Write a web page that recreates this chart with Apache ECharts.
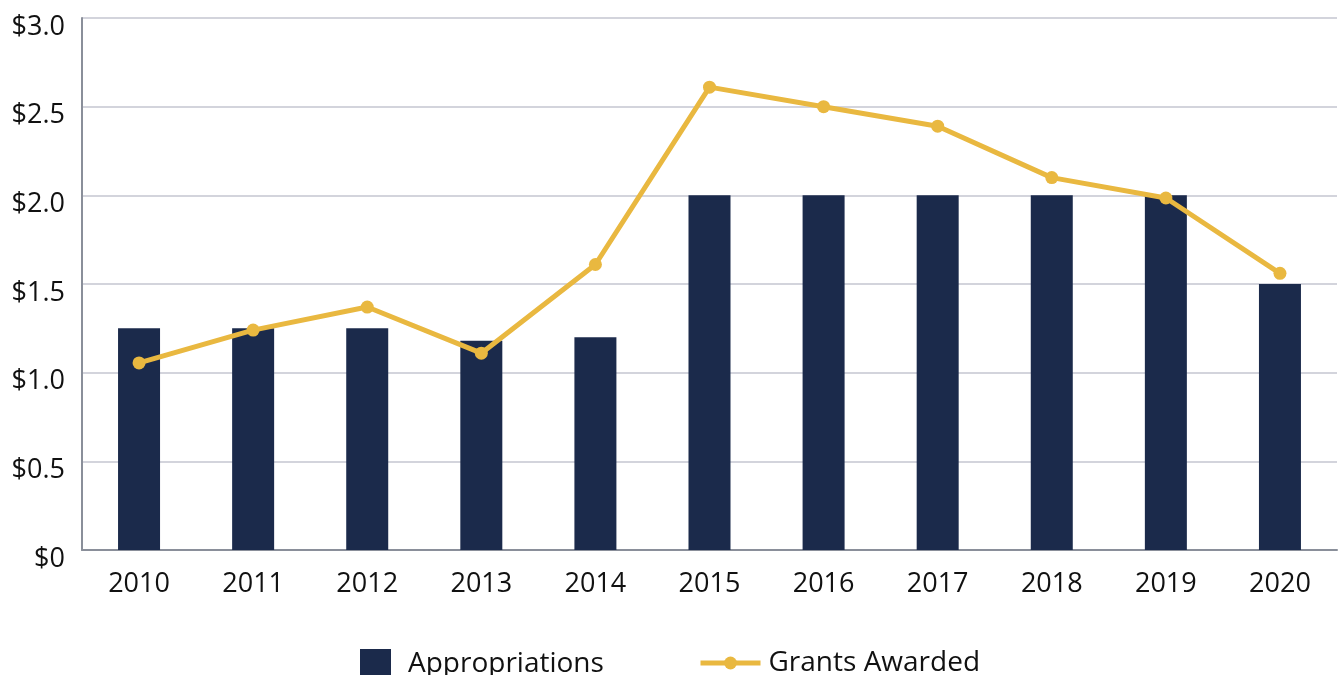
<!DOCTYPE html>
<html>
<head>
<meta charset="utf-8">
<script src="https://cdn.jsdelivr.net/npm/echarts@6/dist/echarts.min.js"></script>
<style>
  html, body { margin: 0; padding: 0; background: #fff; }
  #main { width: 1338px; height: 675px; }
</style>
</head>
<body>
<div id="main"></div>
<script>
const years = ['2010', '2011', '2012', '2013', '2014', '2015', '2016', '2017', '2018', '2019', '2020'];
const appropriations = [1.25, 1.25, 1.25, 1.18, 1.2, 2.0, 2.0, 2.0, 2.0, 2.0, 1.5];
const grantsAwarded = [1.055, 1.24, 1.37, 1.11, 1.61, 2.61, 2.5, 2.39, 2.1, 1.985, 1.56];
const yTicks = ['$0', '$0.5', '$1.0', '$1.5', '$2.0', '$2.5', '$3.0'];

const navy = '#1b2a4b';
const gold = '#e9b840';
const fontFam = '"Open Sans", "Noto Sans", sans-serif';

const chart = echarts.init(document.getElementById('main'));
const option = {
  animation: false,
  textStyle: { fontFamily: fontFam },
  grid: { left: 82, right: 1, top: 18, bottom: 125, containLabel: false },
  legend: [
    {
      data: [{ name: 'Appropriations', icon: 'rect' }],
      left: 355, top: 644,
      itemWidth: 31, itemHeight: 31,
      textStyle: { fontSize: 28, color: '#111', fontFamily: fontFam, padding: [0, 0, 12, 12] }
    },
    {
      data: ['Grants Awarded'],
      left: 693, top: 644,
      itemWidth: 60, itemHeight: 16,
      lineStyle: { width: 5 },
      textStyle: { fontSize: 28, color: '#111', fontFamily: fontFam, padding: [0, 0, 6, 3] }
    }
  ],
  xAxis: {
    type: 'category',
    data: years,
    axisLine: { lineStyle: { color: '#8a8f9a', width: 2 } },
    axisTick: { show: false },
    axisLabel: { color: '#111', fontSize: 27, margin: 21, fontFamily: fontFam }
  },
  yAxis: {
    type: 'value',
    min: 0, max: 3, interval: 0.5,
    axisLine: { show: true, lineStyle: { color: '#8a8f9a', width: 2 } },
    axisTick: { show: false },
    axisLabel: {
      color: '#111', fontSize: 27, margin: 17, fontFamily: fontFam,
      verticalAlign: 'top', lineHeight: 18,
      formatter: (v) => yTicks[Math.round(v / 0.5)]
    },
    splitLine: { lineStyle: { color: '#c4c6d0', width: 1.5 } }
  },
  series: [
    {
      name: 'Appropriations',
      type: 'bar',
      data: appropriations,
      barWidth: 42,
      itemStyle: { color: navy }
    },
    {
      name: 'Grants Awarded',
      type: 'line',
      data: grantsAwarded,
      symbol: 'circle',
      symbolSize: 13,
      lineStyle: { color: gold, width: 5 },
      itemStyle: { color: gold }
    }
  ]
};
chart.setOption(option);
</script>
</body>
</html>
